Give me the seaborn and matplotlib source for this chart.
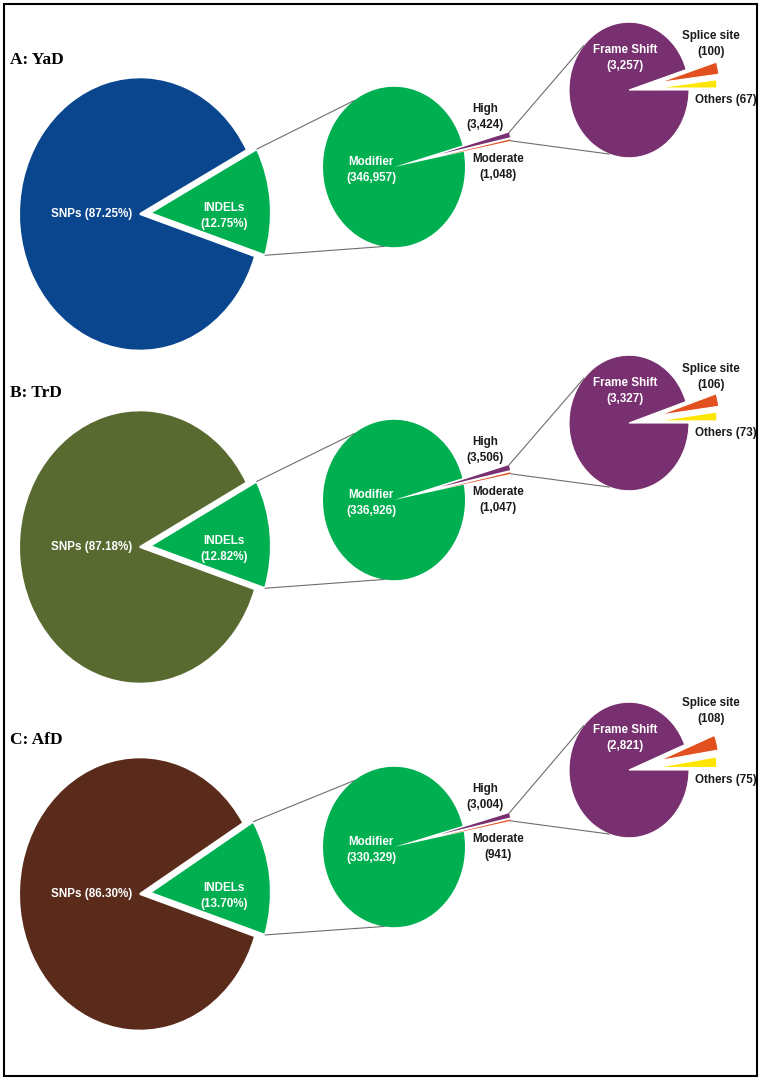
import numpy as np
import seaborn as sns
import matplotlib.pyplot as plt

# Data
panels = ["A: YaD", "B: TrD", "C: AfD"]
snp_pct = [87.25, 87.18, 86.30]
indel_pct = [12.75, 12.82, 13.70]
modifier = [346957, 336926, 330329]
high = [3424, 3506, 3004]
moderate = [1048, 1047, 941]
frame_shift = [3257, 3327, 2821]
splice_site = [100, 106, 108]
others = [67, 73, 75]
snp_colors = ["#0A468E", "#586A30", "#5A2A1A"]

green = "#00AF50"
purple = "#783070"
orange = "#E2501F"
yellow = "#FFE600"
dark = "#1A1A1A"

sns.set_theme(style="white")
plt.rcParams["font.family"] = ["Liberation Sans", "DejaVu Sans"]

W, H = 763, 1083
S = 1.13  # vertical stretch of the pies
FS = 8.4


def P(x, y):
    # pixel position -> data coords
    return x, (H - y) / S


def edge_pt(w, ang):
    t = np.deg2rad(ang)
    return w.center[0] + w.r * np.cos(t), w.center[1] + w.r * np.sin(t)


fig = plt.figure(figsize=(W / 100, H / 100), dpi=100)
ax = fig.add_axes([0, 0, 1, 1])

row_dy = [0, 333, 680]
splice_dy = [-46, -46, -59]
txt = dict(fontweight="bold", fontsize=FS, ha="center", va="center", linespacing=1.45)

for i, dy in enumerate(row_dy):
    ax.text(*P(10, 60 + dy), panels[i], family="Liberation Serif", fontweight="bold",
            fontsize=12.5, color="black", ha="left", va="center")

    # main pie
    w1, _ = ax.pie([indel_pct[i], snp_pct[i]], center=P(140, 214 + dy), radius=121,
                   startangle=-18, colors=[green, snp_colors[i]], explode=[10, 0],
                   wedgeprops=dict(edgecolor="white", linewidth=1.5))
    ax.text(*P(92, 214 + dy), f"SNPs ({snp_pct[i]:.2f}%)", color="white", **txt)
    ax.text(*P(224, 216 + dy), f"INDELs\n({indel_pct[i]:.2f}%)", color="white", **txt)

    # modifier pie
    w2, _ = ax.pie([moderate[i], high[i], modifier[i]], center=P(394, 167 + dy), radius=71,
                   startangle=11, colors=[orange, purple, green], explode=[48, 48, 0],
                   wedgeprops=dict(linewidth=0))
    ax.text(*P(371, 170 + dy), f"Modifier\n({modifier[i]:,})", color="white", **txt)
    ax.text(*P(485, 117 + dy), f"High\n({high[i]:,})", color=dark, **txt)
    ax.text(*P(498, 167 + dy), f"Moderate\n({moderate[i]:,})", color=dark, **txt)

    # frame shift pie
    w3, _ = ax.pie([others[i], splice_site[i], frame_shift[i]], center=P(629, 90 + dy), radius=60,
                   startangle=0, colors=[yellow, orange, purple], explode=[28, 31, 0],
                   wedgeprops=dict(edgecolor="white", linewidth=0.8))
    ax.text(*P(625, 58 + dy), f"Frame Shift\n({frame_shift[i]:,})", color="white", **txt)
    ax.text(*P(711, 90 + splice_dy[i] + dy), f"Splice site\n({splice_site[i]:,})", color=dark, **txt)
    ax.text(*P(726, 100 + dy), f"Others ({others[i]:,})", color=dark, **txt)

    # connector lines
    ind = w1[0]
    for a_src, a_dst in [(ind.theta2, 124), (ind.theta1, -98)]:
        p0 = edge_pt(ind, a_src)
        p1 = edge_pt(w2[2], a_dst)
        ax.plot([p0[0], p1[0]], [p0[1], p1[1]], color="#6E6E6E", lw=0.8)
    for w, a_src, a_dst in [(w2[1], w2[1].theta2, 139), (w2[0], w2[0].theta1, -109)]:
        p0 = edge_pt(w, a_src)
        p1 = edge_pt(w3[2], a_dst)
        ax.plot([p0[0], p1[0]], [p0[1], p1[1]], color="#6E6E6E", lw=0.8)

ax.set_aspect("auto")
ax.set_xlim(0, W)
ax.set_ylim(0, H / S)
ax.axis("off")

fig.add_artist(plt.Rectangle((4 / W, (H - 1076) / H), 753 / W, 1072 / H, fill=False,
                             lw=1.5, edgecolor="black", transform=fig.transFigure))

fig.savefig("out.png", dpi=100)
